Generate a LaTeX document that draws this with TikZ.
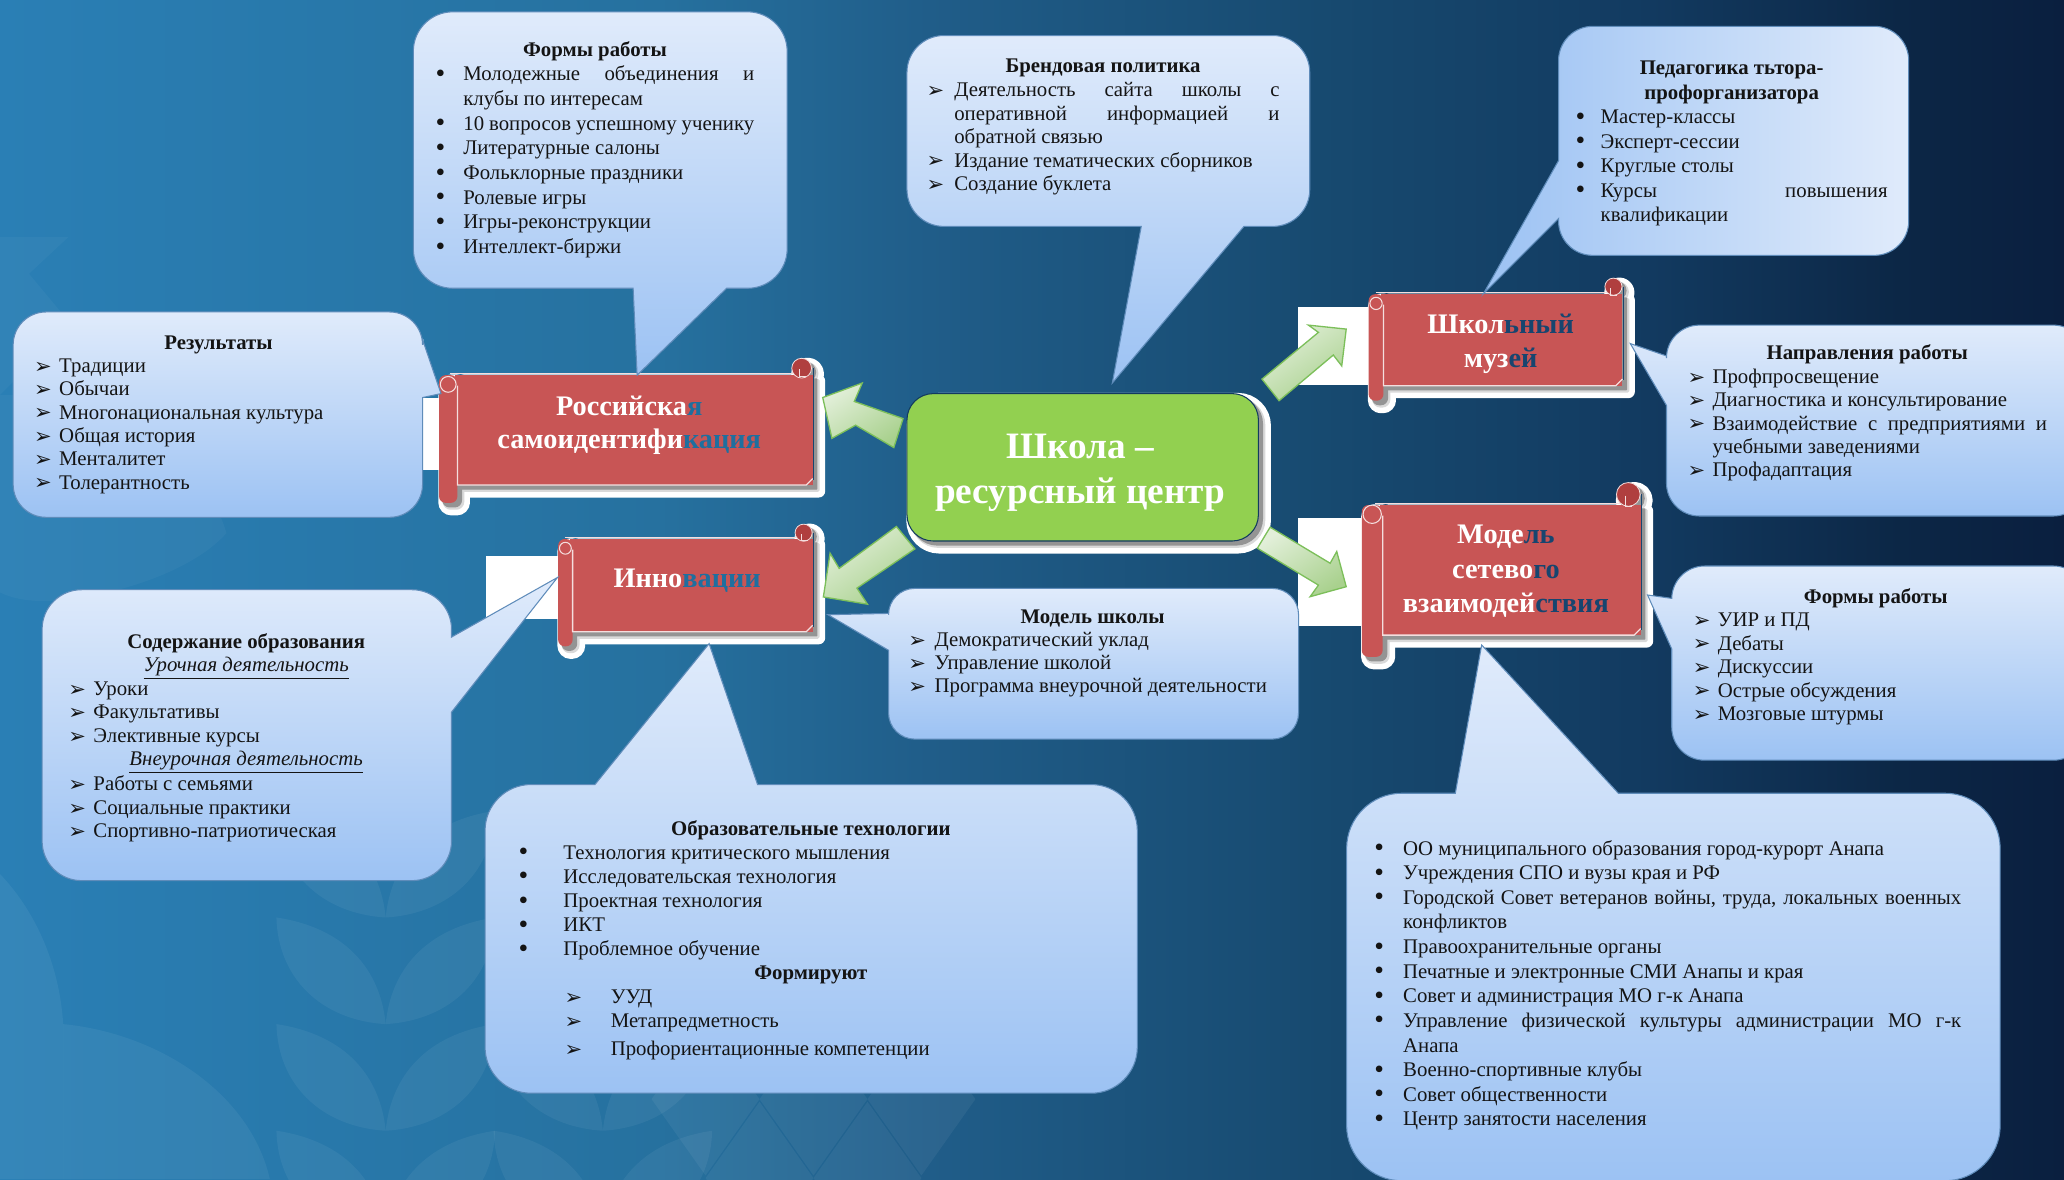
\documentclass[tikz,border=0pt]{standalone}
\usepackage{fontspec}
\setmainfont{Liberation Serif}
\newfontfamily\djv{DejaVu Sans}
\usetikzlibrary{calc}
\definecolor{bgA}{HTML}{2A7FB5}
\definecolor{bgB}{HTML}{26719F}
\definecolor{bgC}{HTML}{205D89}
\definecolor{bgD}{HTML}{174A70}
\definecolor{bgE}{HTML}{123A60}
\definecolor{bgF}{HTML}{0C2746}
\definecolor{bgG}{HTML}{0A1F3F}
\definecolor{cLight}{HTML}{E0EBFB}
\definecolor{cDeep}{HTML}{9CC2F3}
\definecolor{cEdge}{HTML}{5F8CBA}
\definecolor{scrollRed}{HTML}{C85555}
\definecolor{scrollDark}{HTML}{B03F3F}
\definecolor{scrollEdge}{HTML}{F4DEDE}
\definecolor{schoolGreen}{HTML}{92D050}
\definecolor{arrLight}{HTML}{E2EFD9}
\definecolor{arrDeep}{HTML}{A9D18E}
\definecolor{arrEdge}{HTML}{7CBF5A}
\definecolor{tealTxt}{HTML}{1F6F9F}
\definecolor{navyTxt}{HTML}{17456F}
\tikzset{
  callout/.style={draw=cEdge,line width=0.8pt,top color=cLight,bottom color=cDeep},
  calloutH/.style={draw=cEdge,line width=0.8pt,left color=cDeep,right color=cLight},
  txt/.style={anchor=north west,inner sep=0pt,outer sep=0pt,align=justify,text=black!92},
  headtxt/.style={anchor=center,inner sep=0pt,align=center,text=white},
  blockarrow/.style={draw=arrEdge,line width=1pt,line join=miter,bottom color=arrDeep,top color=arrLight,shading angle=35},
  leaf/.style={fill=white,fill opacity=0.055,draw=none},
  faintleaf/.style={fill=white,fill opacity=0.035,draw=none},
  patch/.style={fill=white,draw=none},
}
\newcommand\ind{16pt}
\newcommand\ttl[1]{\par\noindent\hbox to\hsize{\hfil\strut #1\hfil}\par}
\newcommand\ar[1]{\par\hangindent=\ind\hangafter=1\noindent\hbox to\ind{\strut\raisebox{-0.6pt}{\djv\fontsize{16}{12}\selectfont ➢}\hss}#1\par}
\newcommand\bu[1]{\par\hangindent=\ind\hangafter=1\noindent\hbox to\ind{\strut\raisebox{-1.2pt}{\fontsize{21}{12}\selectfont •}\hss}#1\par}
% name, x, first line y, width, baseline skip, indent, content
\newcommand\blk[7]{\node[txt,text width=#4pt,font=\fontsize{15.8}{#5}\selectfont] (#1) at (#2,#3-0.7*#5) {\renewcommand\ind{#6pt}\hyphenpenalty=10000 \emergencystretch=20pt #7};}
% scroll: xl colr xr yt yb ycolb cx cy radius
\newcommand\scrollbox[9]{%
  \def\xl{#1}\def\colr{#2}\def\xr{#3}\def\yt{#4}\def\yb{#5}\def\ycb{#6}\def\ccx{#7}\def\ccy{#8}\def\crad{#9}%
  \foreach \shf/\col/\lw in {4.5/white/10,4/black!15/2.5,3/black!42/1}{%
    \begin{scope}[shift={(\shf,\shf)}]
      \fill[\col,draw=\col,line width=\lw pt,line join=round]
        (\colr,\yt) rectangle (\xr,\yb) (\ccx,\ccy) circle[radius=\crad];
      \fill[\col,draw=\col,line width=\lw pt,rounded corners=5pt] (\xl,\yt) rectangle (\colr,\ycb);
    \end{scope}}
  \fill[scrollRed,rounded corners=5pt] (\xl,\yt) rectangle (\colr,\ycb);
  \fill[scrollRed] (\colr-2,\yt) rectangle (\xr,\yb);
  \draw[scrollEdge,line width=0.9pt] (\colr-6,\yt-1) -- (\ccx,\yt-1);
  \draw[scrollEdge,line width=1pt] (\colr,\yt+8) -- (\colr,\yb) -- (\xr-5,\yb) -- (\xr,\yb-5);
  \draw[navyTxt,line width=0.6pt] (\xr+0.5,\ccy) -- (\xr+0.5,\yb-4);
  \fill[scrollDark,draw=scrollEdge,line width=0.6pt] (\ccx,\ccy) circle[radius=\crad];
  \draw[scrollEdge,line width=0.7pt] (\ccx-2,\ccy+1) -- (\ccx-2,\yt+1) -- (\ccx+3,\yt+1);
  \draw[scrollEdge,line width=0.8pt] ({(\xl+\colr)/2},\yt+7) circle[radius={(\colr-\xl)/2-1}];
}
\begin{document}
\begin{tikzpicture}[x=1pt,y=-1pt]
\useasboundingbox (0,0) rectangle (1568,895.7);
\foreach \xa/\xb/\ca/\cb in {0/500.5/bgA/bgB,500/705.5/bgB/bgC,705/1003.5/bgC/bgD,1003/1254.5/bgD/bgE,1254/1442.5/bgE/bgF,1442/1568/bgF/bgG}{
  \path[left color=\ca,right color=\cb] (\xa,0) rectangle (\xb,895.7);
}
% faint background pattern
\begin{scope}
\clip (0,0) rectangle (1568,895.7);
\fill[faintleaf] (0,180) -- (52,180) -- (22,208) -- (47,238) -- (30,270) -- (0,300) -- cycle;
\fill[faintleaf] (172,405) .. controls (150,430) and (100,450) .. (47,456) .. controls (25,458) and (10,455) .. (0,450) -- (0,300) .. controls (60,300) and (150,330) .. cycle;
\fill[leaf] (0,664) .. controls (25,690) and (45,730) .. (48,778) -- (48,895.7) -- (0,895.7) -- cycle;
\fill[leaf] (48,778) .. controls (120,785) and (190,830) .. (205,895.7) -- (48,895.7) -- cycle;
\foreach \ccol in {293,458}{
  \foreach \ty in {616,697,778,859}{
    \fill[leaf] (\ccol-83,\ty) .. controls (\ccol-30,\ty+8) and (\ccol-4,\ty+40) .. (\ccol,\ty+81) .. controls (\ccol-50,\ty+78) and (\ccol-82,\ty+45) .. cycle;
    \fill[leaf] (\ccol+83,\ty) .. controls (\ccol+30,\ty+8) and (\ccol+4,\ty+40) .. (\ccol,\ty+81) .. controls (\ccol+50,\ty+78) and (\ccol+82,\ty+45) .. cycle;
  }
}
\foreach \dx/\dy in {536/835,618/835,700/835,577/895,659/895}{
  \fill[leaf] (\dx,\dy-58) -- (\dx+41,\dy) -- (\dx,\dy+58) -- (\dx-41,\dy) -- cycle;
}
\end{scope}
% stray white patches behind the scrolls
\fill[patch] (321,302) rectangle (334,357);
\fill[patch] (369,422.5) rectangle (425,470);
\fill[patch] (986,233) rectangle (1041,292.5);
\fill[patch] (986,393.6) rectangle (1036,475.6);
% scrolls
\scrollbox{333.5}{347.5}{617.4}{285}{368.5}{382}{609}{279.7}{7.5}
\scrollbox{424}{435}{617.4}{409.5}{480}{491}{610.5}{404.7}{6.5}
\scrollbox{1039.7}{1051}{1232.5}{223.5}{293}{304.4}{1225.7}{217.8}{6.5}
\scrollbox{1034.5}{1050.4}{1246.4}{383.7}{482.5}{499}{1237}{375.6}{9}
% central box
\foreach \shf/\col/\lw in {4.5/white/10,4/black!15/2.5,3/black!42/1}{
  \fill[\col,draw=\col,line width=\lw pt,rounded corners=20pt,shift={(\shf,\shf)}] (689,299) rectangle (956,411);
}
\node[draw=bgE,line width=0.8pt,fill=schoolGreen,rounded corners=20pt,minimum width=267pt,minimum height=112pt,inner sep=0pt] (school) at (822.5,355) {};
\node[headtxt,font=\bfseries\fontsize{28.3}{34}\selectfont] (schooltext) at (820.5,359) {Школа –\\ресурсный центр};
% scroll titles
\node[headtxt,font=\bfseries\fontsize{21.5}{24.5}\selectfont] (russia) at (478,323) {Российска\textcolor{tealTxt}{я}\\самоидентифи\textcolor{tealTxt}{кация}};
\node[headtxt,font=\bfseries\fontsize{21.5}{24.5}\selectfont] (innov) at (522,441) {Инно\textcolor{tealTxt}{вации}};
\node[headtxt,font=\bfseries\fontsize{21.5}{26}\selectfont] (museum) at (1140,261) {Школ\textcolor{navyTxt}{ьный}\\муз\textcolor{navyTxt}{ей}};
\node[headtxt,font=\bfseries\fontsize{21.5}{26}\selectfont] (network) at (1144,434) {Моде\textcolor{navyTxt}{ль}\\сетево\textcolor{navyTxt}{го}\\взаимодей\textcolor{navyTxt}{ствия}};
% callouts
\path[callout,rounded corners=30pt] (450,9) -- (598,9) -- (598,219) [sharp corners] -- (552,219) -- (484,285) -- (481,219) [rounded corners=30pt] -- (314,219) -- (314,9) -- cycle;
\path[callout,rounded corners=28pt] (840,27) -- (995,27) -- (995,172) [sharp corners] -- (945,172) -- (845,291) -- (867,172) [rounded corners=28pt] -- (689,172) -- (689,27) -- cycle;
\path[calloutH,rounded corners=26pt] (1320,20) -- (1450,20) -- (1450,194) -- (1184,194) [sharp corners] -- (1184,166) -- (1127,223) -- (1184,122) [rounded corners=26pt] -- (1184,20) -- cycle;
\path[callout,rounded corners=25pt] (160,237) -- (321,237) [sharp corners] -- (321,258) -- (335,299) -- (321,302) [rounded corners=25pt] -- (321,393) -- (10,393) -- (10,237) -- cycle;
\path[callout,rounded corners=25pt] (1420,247) -- (1585,247) -- (1585,392) -- (1266,392) [sharp corners] -- (1266,308) -- (1238.5,261) -- (1266,270.4) [rounded corners=25pt] -- (1266,247) -- cycle;
\path[callout,rounded corners=25pt] (1420,430) -- (1585,430) -- (1585,577.5) -- (1270,577.5) [sharp corners] -- (1270,493) -- (1251.6,452) -- (1270,454.6) [rounded corners=25pt] -- (1270,430) -- cycle;
\path[callout,rounded corners=20pt] (830,447) -- (986.5,447) -- (986.5,561.5) -- (675,561.5) [sharp corners] -- (675,494) -- (629,467) -- (675,466) [rounded corners=20pt] -- (675,447) -- cycle;
\path[callout,rounded corners=30pt] (187,448) -- (343,448) [sharp corners] -- (343,484) -- (423.5,438.7) -- (343,541) [rounded corners=30pt] -- (343,669) -- (32,669) -- (32,448) -- cycle;
\path[callout,rounded corners=35pt] (368.5,700) -- (368.5,596) [sharp corners] -- (452,596) -- (538.7,489) -- (575.5,596) [rounded corners=35pt] -- (864,596) -- (864,830.5) -- (368.5,830.5) -- cycle;
\path[callout,rounded corners=42pt] (1023,750) -- (1023,602.6) [sharp corners] -- (1105.6,602.6) -- (1125.6,490) -- (1229.4,602.6) [rounded corners=42pt] -- (1519.5,602.6) -- (1519.5,897) -- (1023,897) -- cycle;
% block arrows
\path[blockarrow] (625,302) -- (655,291) -- (649,305) -- (686,318) -- (679,340) -- (650,323) -- (632,333) -- cycle;
\path[blockarrow] (625.5,453.5) -- (630.6,420.3) -- (637.5,431.8) -- (681,400) -- (695,417) -- (651,446.8) -- (659,459) -- cycle;
\path[blockarrow] (1022.7,250) -- (994,247) -- (1001.6,252.5) -- (958.7,288) -- (971.7,304.4) -- (1012.9,269.7) -- (1019.3,278) -- cycle;
\path[blockarrow] (1022.7,445.7) -- (1015.5,419) -- (1010.5,427.9) -- (964.9,400.5) -- (955.2,416.5) -- (1001.6,444.5) -- (995.3,453.3) -- cycle;
% callout texts
\blk{formsA}{331}{37}{242}{18.75}{21}{\ttl{\textbf{Формы работы}}\bu{Молодежные объединения и\linebreak клубы по интересам}\bu{10 вопросов успешному ученику}\bu{Литературные салоны}\bu{Фольклорные праздники}\bu{Ролевые игры}\bu{Игры-реконструкции}\bu{Интеллект-биржи}}
\blk{brand}{704}{50}{268}{17.9}{21}{\ttl{\textbf{Брендовая политика}}\ar{Деятельность сайта школы с\linebreak оперативной информацией и\linebreak обратной связью}\ar{Издание тематических сборников}\ar{Создание буклета}}
\blk{tutor}{1197}{51}{237}{18.67}{19}{\ttl{\textbf{Педагогика тьтора-}}\ttl{\textbf{профорганизатора}}\bu{Мастер-классы}\bu{Эксперт-сессии}\bu{Круглые столы}\bu{Курсы повышения\linebreak квалификации}}
\blk{results}{26}{260}{280}{17.7}{19}{\ttl{\textbf{Результаты}}\ar{Традиции}\ar{Обычаи}\ar{Многонациональная культура}\ar{Общая история}\ar{Менталитет}\ar{Толерантность}}
\blk{dirs}{1282}{268}{273}{17.8}{19}{\ttl{\textbf{Направления работы}}\ar{Профпросвещение}\ar{Диагностика и консультирование}\ar{Взаимодействие с предприятиями и\linebreak учебными заведениями}\ar{Профадаптация}}
\blk{formsB}{1286}{453}{278}{17.8}{19}{\ttl{\textbf{Формы работы}}\ar{УИР и ПД}\ar{Дебаты}\ar{Дискуссии}\ar{Острые обсуждения}\ar{Мозговые штурмы}}
\blk{model}{690}{468}{280}{17.7}{20}{\ttl{\textbf{Модель школы}}\ar{Демократический уклад}\ar{Управление школой}\ar{Программа внеурочной деятельности}}
\blk{content}{52}{487}{270}{17.9}{19}{\ttl{\textbf{Содержание образования}}\ttl{\underline{\textit{Урочная деятельность}}}\ar{Уроки}\ar{Факультативы}\ar{Элективные курсы}\ttl{\underline{\textit{Внеурочная деятельность}}}\ar{Работы с семьями}\ar{Социальные практики}\ar{Спортивно-патриотическая}}
\blk{tech}{394}{629}{444}{18.3}{34}{\ttl{\textbf{Образовательные технологии}}\bu{Технология критического мышления}\bu{Исследовательская технология}\bu{Проектная технология}\bu{ИКТ}\bu{Проблемное обучение}\ttl{\textbf{Формируют}}\leftskip=35pt\renewcommand\ind{35pt}\ar{УУД}\ar{Метапредметность}\vskip3pt\ar{Профориентационные компетенции}}
\blk{partners}{1044}{644}{446}{18.7}{22}{\bu{ОО муниципального образования город-курорт Анапа}\bu{Учреждения СПО и вузы края и РФ}\bu{Городской Совет ветеранов войны, труда, локальных военных\linebreak конфликтов}\bu{Правоохранительные органы}\bu{Печатные и электронные СМИ Анапы и края}\bu{Совет и администрация МО г-к Анапа}\bu{Управление физической культуры администрации МО г-к\linebreak Анапа}\bu{Военно-спортивные клубы}\bu{Совет общественности}\bu{Центр занятости населения}}
\end{tikzpicture}
\end{document}
